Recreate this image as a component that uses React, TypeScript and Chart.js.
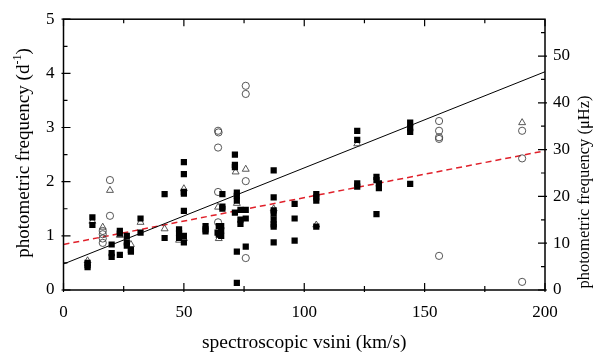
import React, { useEffect, useRef } from "react";
import { Chart, registerables } from "chart.js";
Chart.register(...registerables);

// filled squares
const squaresX = [10, 10, 10, 12, 12, 20, 20, 20, 23.4, 23.4, 23.4, 26.3, 26.3, 26.3, 28, 28, 32, 32, 42, 42, 48, 48, 48,
  50, 50, 50, 50, 50, 50, 50, 59, 59, 59, 64, 64.5, 64.5, 65.5, 65.5, 65.5, 66, 66, 66,
  71.2, 71.2, 71.2, 71.2, 72, 72, 72, 72, 72, 73.5, 75.7, 75.7, 73.5, 73.5, 75.7,
  87.3, 87.3, 87.3, 87.3, 87.3, 87.3, 87.3, 87.3, 96, 96, 96, 105, 105, 105, 105,
  122, 122, 122, 122, 130, 130, 131, 131, 130, 144, 144, 144, 144];
const squaresY = [0.42, 0.46, 0.5, 1.34, 1.2, 0.84, 0.68, 0.61, 0.65, 1.09, 1.04, 1.0, 0.88, 0.82, 0.74, 0.71, 1.32, 1.06, 1.77, 0.96, 1.12, 1.05, 0.96,
  2.36, 2.14, 1.81, 1.78, 1.46, 1.0, 0.88, 1.18, 1.12, 1.08, 1.06, 1.18, 1.02, 1.18, 1.1, 1.0, 1.77, 1.54, 1.5,
  2.5, 2.31, 2.27, 1.43, 1.8, 1.74, 1.65, 0.71, 0.13, 1.48, 1.48, 1.32, 1.3, 1.22, 0.8,
  2.21, 1.71, 1.47, 1.41, 1.3, 1.21, 1.17, 0.88, 1.59, 1.32, 0.91, 1.77, 1.71, 1.65, 1.17,
  2.94, 2.77, 1.97, 1.91, 2.09, 2.03, 1.97, 1.88, 1.4, 3.09, 2.99, 2.92, 1.96];

// open circles
const circlesX = [16.3, 16.3, 16.3, 16.3, 19.3, 19.3, 64.2, 64.4, 64.2, 64.2, 64.2, 75.7, 75.7, 75.7, 75.7, 156, 156, 156, 156, 156, 190.5, 190.5, 190.5];
const circlesY = [1.09, 1.03, 0.95, 0.87, 2.03, 1.37, 2.94, 2.91, 2.63, 1.81, 1.25, 3.77, 3.62, 2.01, 0.59, 3.12, 2.94, 2.82, 2.79, 0.63, 2.94, 2.43, 0.15];

// open triangles
const trianglesX = [10, 12, 16.3, 19.3, 23.4, 28, 32, 42, 48, 50, 50, 64.2, 64.5, 71.5, 72, 75.7, 87.3, 105, 122, 190.5];
const trianglesY = [0.54, 1.27, 1.16, 1.84, 1.01, 0.84, 1.25, 1.13, 0.92, 1.87, 0.95, 1.53, 0.95, 2.18, 1.6, 2.23, 1.5, 1.2, 2.7, 3.09];

// fit lines
const fitBlackX = [0, 200];
const fitBlackY = [0.48, 4.03];
const fitRedX = [0, 200];
const fitRedY = [0.84, 2.57];

// ticks
const xTickLabels = [0, 50, 100, 150, 200];
const xMinorTicks = [25, 75, 125, 175];
const yLeftTickLabels = [0, 1, 2, 3, 4, 5];
const yLeftMinorTicks = [0.5, 1.5, 2.5, 3.5, 4.5];
const yRightTickLabels = [0, 10, 20, 30, 40, 50];
const yRightMinorTicks = [5, 15, 25, 35, 45, 55];
const D_TO_UHZ = 11.574;

const xTitle = "spectroscopic vsini (km/s)";
const leftTitle = "photometric frequency (d";
const leftTitleSup = "-1";
const rightTitle = "photometric frequency (\u03BCHz)";

const zip = (xs: number[], ys: number[]) => xs.map((x, i) => ({ x, y: ys[i] }));

const FONT = "'Liberation Serif', 'Times New Roman', serif";

const framePlugin = {
  id: "frameTicks",
  afterDatasetsDraw(chart: any) {
    const { ctx, chartArea: a, scales } = chart;
    const x = scales.x, y = scales.y, y1 = scales.y1;
    ctx.save();
    ctx.strokeStyle = "#000";
    ctx.lineWidth = 1.5;
    ctx.strokeRect(a.left, a.top, a.right - a.left, a.bottom - a.top);
    ctx.lineWidth = 1.2;
    const major = 7, minor = 4;
    ctx.beginPath();
    const hx = (v: number, len: number) => {
      const px = x.getPixelForValue(v);
      ctx.moveTo(px, a.bottom + 2); ctx.lineTo(px, a.bottom - len);
      ctx.moveTo(px, a.top); ctx.lineTo(px, a.top + len);
    };
    xTickLabels.forEach((v) => hx(v, major));
    xMinorTicks.forEach((v) => hx(v, minor));
    yLeftTickLabels.forEach((v) => { const py = y.getPixelForValue(v); ctx.moveTo(a.left - 2, py); ctx.lineTo(a.left + major, py); });
    yLeftMinorTicks.forEach((v) => { const py = y.getPixelForValue(v); ctx.moveTo(a.left, py); ctx.lineTo(a.left + minor, py); });
    yRightTickLabels.forEach((v) => { const py = y1.getPixelForValue(v); ctx.moveTo(a.right + 2, py); ctx.lineTo(a.right - major, py); });
    yRightMinorTicks.forEach((v) => { const py = y1.getPixelForValue(v); ctx.moveTo(a.right, py); ctx.lineTo(a.right - minor, py); });
    ctx.stroke();
    ctx.restore();

    // left axis title with superscript, reading bottom to top
    ctx.save();
    ctx.fillStyle = "#000";
    ctx.textBaseline = "alphabetic";
    ctx.textAlign = "left";
    const mainFont = `19px ${FONT}`;
    const supFont = `12px ${FONT}`;
    ctx.font = mainFont;
    const w1 = ctx.measureText(leftTitle).width;
    const w3 = ctx.measureText(")").width;
    ctx.font = supFont;
    const w2 = ctx.measureText(leftTitleSup).width;
    const total = w1 + w2 + w3;
    ctx.translate(29, 153);
    ctx.rotate(-Math.PI / 2);
    let cx = -total / 2;
    ctx.font = mainFont;
    ctx.fillText(leftTitle, cx, 0);
    cx += w1;
    ctx.font = supFont;
    ctx.fillText(leftTitleSup, cx, -8);
    cx += w2;
    ctx.font = mainFont;
    ctx.fillText(")", cx, 0);
    ctx.restore();

    // right axis title, reading bottom to top
    ctx.save();
    ctx.fillStyle = "#000";
    ctx.font = `16.5px ${FONT}`;
    ctx.textAlign = "center";
    ctx.textBaseline = "middle";
    ctx.translate(585, 192);
    ctx.rotate(-Math.PI / 2);
    ctx.fillText(rightTitle, 0, 0);
    ctx.restore();
  },
};

export default function App() {
  const ref = useRef<HTMLCanvasElement | null>(null);
  useEffect(() => {
    if (!ref.current) return;
    const font = { family: FONT, size: 17 };
    const chart = new Chart(ref.current, {
      type: "scatter",
      data: {
        datasets: [
          { label: "squares", data: zip(squaresX, squaresY), pointStyle: "rect", pointRadius: 4.4, backgroundColor: "#000", borderColor: "#000", borderWidth: 0 },
          { label: "circles", data: zip(circlesX, circlesY), pointStyle: "circle", pointRadius: 3.6, backgroundColor: "rgba(255,255,255,0)", borderColor: "#444", borderWidth: 0.9 },
          { label: "triangles", data: zip(trianglesX, trianglesY), pointStyle: "triangle", pointRadius: 4, backgroundColor: "rgba(255,255,255,0)", borderColor: "#444", borderWidth: 0.9 },
          { type: "line", label: "fit", data: zip(fitBlackX, fitBlackY), borderColor: "#000", borderWidth: 1, pointRadius: 0, showLine: true, fill: false } as any,
          { type: "line", label: "fit2", data: zip(fitRedX, fitRedY), borderColor: "#e0202a", borderWidth: 1.5, borderDash: [6, 4], pointRadius: 0, showLine: true, fill: false } as any,
        ],
      },
      options: {
        animation: false,
        responsive: false,
        maintainAspectRatio: false,
        layout: { padding: { top: 7, left: 0, right: 0, bottom: 0 } },
        plugins: { legend: { display: false }, tooltip: { enabled: false } },
        scales: {
          x: {
            type: "linear", min: 0, max: 200, position: "bottom",
            grid: { display: false, drawTicks: false }, border: { display: false },
            afterBuildTicks: (s: any) => { s.ticks = xTickLabels.map((v) => ({ value: v })); },
            ticks: { font, color: "#000", padding: 12, maxRotation: 0, autoSkip: false },
            title: { display: true, text: xTitle, font: { family: FONT, size: 19.5 }, color: "#000", padding: { top: 0, bottom: 1.5 } },
            afterFit: (s: any) => { s.height = 66; },
          },
          y: {
            type: "linear", min: 0, max: 5, position: "left",
            grid: { display: false, drawTicks: false }, border: { display: false },
            afterBuildTicks: (s: any) => { s.ticks = yLeftTickLabels.map((v) => ({ value: v })); },
            ticks: { font, color: "#000", padding: 9, autoSkip: false },
            afterFit: (s: any) => { s.width = 63.5; },
          },
          y1: {
            type: "linear", min: 0, max: 5 * D_TO_UHZ, position: "right",
            grid: { display: false, drawTicks: false }, border: { display: false },
            afterBuildTicks: (s: any) => { s.ticks = yRightTickLabels.map((v) => ({ value: v })); },
            ticks: { font, color: "#000", padding: 8, autoSkip: false },
            afterFit: (s: any) => { s.width = 55; },
          },
        },
      },
      plugins: [framePlugin],
    } as any);
    return () => chart.destroy();
  }, []);
  return (
    <div style={{ position: "fixed", left: 0, top: 0, width: 600, height: 356, background: "#fff" }}>
      <canvas ref={ref} width={600} height={356} style={{ width: 600, height: 356 }} />
    </div>
  );
}
